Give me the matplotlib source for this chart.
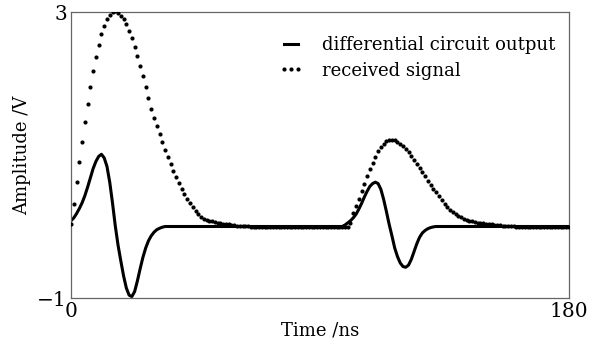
import numpy as np
import matplotlib
matplotlib.use("Agg")
import matplotlib.pyplot as plt

# time grid, one sample per ns
time_ns = np.arange(0, 181)

# received signal, first pulse (t = 0..64 ns)
recv_pulse1 = [
    0.04, 0.32, 0.62, 0.90, 1.18, 1.46, 1.71, 1.95, 2.17, 2.37,
    2.54, 2.69, 2.81, 2.90, 2.96, 3.00, 3.01, 2.99, 2.95, 2.90,
    2.83, 2.74, 2.63, 2.51, 2.38, 2.24, 2.10, 1.95, 1.80, 1.65,
    1.52, 1.40, 1.29, 1.18, 1.07, 0.97, 0.87, 0.78, 0.69, 0.61,
    0.53, 0.46, 0.39, 0.33, 0.27, 0.22, 0.17, 0.13, 0.11, 0.09,
    0.08, 0.07, 0.06, 0.05, 0.045, 0.04, 0.035, 0.03, 0.02, 0.015,
    0.01, 0.008, 0.005, 0.003, 0.001,
]
# received signal, second pulse (t = 100..160 ns)
recv_pulse2 = [
    0.00, 0.05, 0.19, 0.28, 0.38, 0.49, 0.60, 0.71, 0.80, 0.89,
    0.97, 1.05, 1.11, 1.15, 1.19, 1.21, 1.21, 1.21, 1.18, 1.16,
    1.12, 1.08, 1.04, 0.99, 0.93, 0.87, 0.82, 0.76, 0.70, 0.64,
    0.58, 0.53, 0.48, 0.42, 0.37, 0.32, 0.27, 0.23, 0.20, 0.17,
    0.15, 0.13, 0.11, 0.09, 0.08, 0.07, 0.06, 0.055, 0.05, 0.045,
    0.04, 0.035, 0.03, 0.025, 0.02, 0.015, 0.012, 0.009, 0.006, 0.004,
    0.002,
]
# differential circuit output, first pulse (t = 0..34 ns)
diff_pulse1 = [
    0.08, 0.12, 0.18, 0.25, 0.33, 0.43, 0.55, 0.68, 0.81, 0.91,
    0.98, 1.01, 0.96, 0.84, 0.62, 0.33, 0.01, -0.26, -0.48, -0.69,
    -0.86, -0.96, -0.98, -0.91, -0.76, -0.59, -0.43, -0.30, -0.20, -0.13,
    -0.08, -0.045, -0.025, -0.01, 0.0,
]
# differential circuit output, second pulse (t = 98..132 ns)
diff_pulse2 = [
    0.0, 0.02, 0.05, 0.08, 0.12, 0.17, 0.24, 0.32, 0.41, 0.49,
    0.56, 0.60, 0.62, 0.60, 0.52, 0.38, 0.21, 0.03, -0.13, -0.30,
    -0.42, -0.51, -0.56, -0.57, -0.54, -0.46, -0.35, -0.24, -0.15, -0.09,
    -0.055, -0.03, -0.015, -0.005, 0.0,
]

received = np.zeros(len(time_ns))
received[0:len(recv_pulse1)] = recv_pulse1
received[100:100 + len(recv_pulse2)] = recv_pulse2

diff_out = np.zeros(len(time_ns))
diff_out[0:len(diff_pulse1)] = diff_pulse1
diff_out[98:98 + len(diff_pulse2)] = diff_pulse2

plt.rcParams["font.family"] = ["DejaVu Serif"]

fig = plt.figure(figsize=(5.96, 3.45), dpi=100, facecolor="white")
ax = fig.add_axes([71 / 596, 1 - 298 / 345, 498 / 596, 286 / 345])

ax.plot(time_ns, diff_out, color="black", linewidth=2.2,
        label="differential circuit output", zorder=2)
ax.plot(time_ns, received, linestyle="none", marker="o", markersize=3.0,
        color="black", markeredgewidth=0, label="received signal", zorder=3)

ax.set_xlim(0, 180)
ax.set_ylim(-1, 3)
ax.set_xticks([0, 180])
ax.set_yticks([-1, 3])
ax.tick_params(length=0, labelsize=14.5, pad=3)
for sp in ax.spines.values():
    sp.set_color("#666666")
    sp.set_linewidth(0.9)

ax.set_xlabel("Time /ns", fontsize=13, labelpad=0)
ax.set_ylabel("Amplitude /V", fontsize=13, labelpad=4)

ax.legend(loc="upper left", bbox_to_anchor=(0.402, 0.94), frameon=False,
          fontsize=13, numpoints=3, handlelength=1.4, handletextpad=1.0,
          labelspacing=0.4, borderaxespad=0)

fig.savefig("out.png", dpi=100, facecolor="white")
